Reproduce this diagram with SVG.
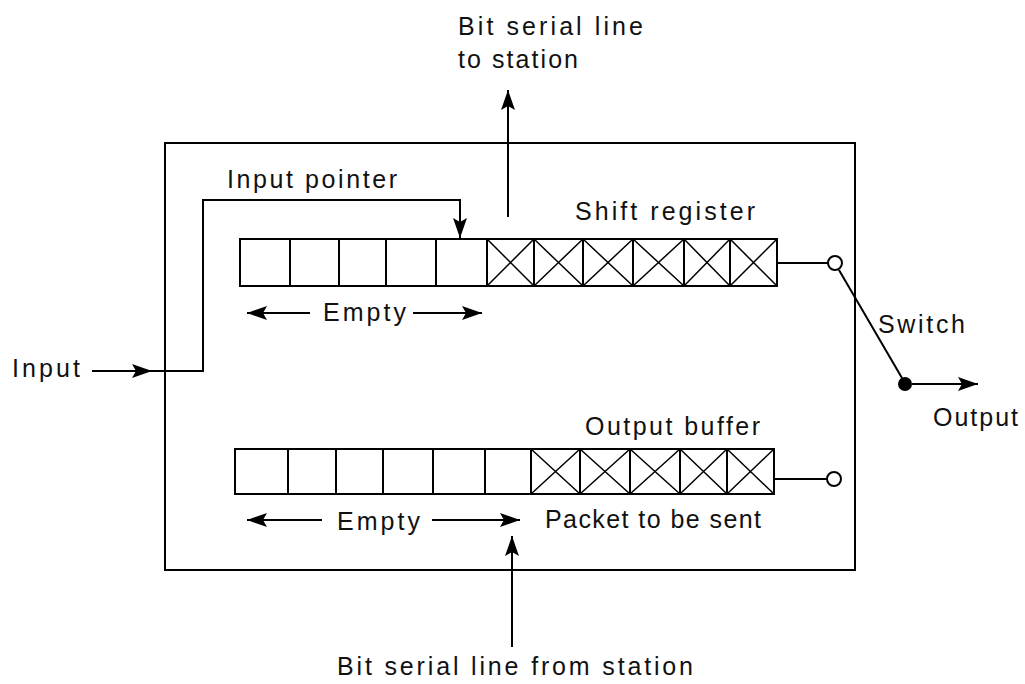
<svg xmlns="http://www.w3.org/2000/svg" width="1025" height="684" viewBox="0 0 1025 684">
<style>
.ln{stroke:#000;stroke-width:2;fill:none}
.cell{stroke:#000;stroke-width:2;fill:#fff}
.x{stroke:#000;stroke-width:1.5}
.t{font-family:"Liberation Sans",Arial,sans-serif;font-size:25px;fill:#111}
</style>
<defs>
<marker id="ah" viewBox="0 0 20 14" refX="20" refY="7" markerWidth="20" markerHeight="14" markerUnits="userSpaceOnUse" orient="auto">
<path d="M0,0 L20,7 L0,14 L4,7 Z" fill="#000"/>
</marker>
</defs>
<rect width="1025" height="684" fill="#fff"/>

<g id="outer-box">
<rect x="165" y="143" width="690" height="427" class="ln"/>
</g>

<g id="shift-register">
<rect x="240" y="239" width="537" height="47" class="cell"/>
<path class="ln" d="M290,239V286M339,239V286M386,239V286M436,239V286M487,239V286M534,239V286M583,239V286M633,239V286M684,239V286M730,239V286"/>
<path class="x" d="M487,239L534,286M534,239L487,286M534,239L583,286M583,239L534,286M583,239L633,286M633,239L583,286M633,239L684,286M684,239L633,286M684,239L730,286M730,239L684,286M730,239L777,286M777,239L730,286"/>
<text class="t" x="575" y="220" textLength="180" lengthAdjust="spacing">Shift register</text>
</g>

<g id="output-buffer">
<rect x="235" y="449" width="539" height="45" class="cell"/>
<path class="ln" d="M288,449V494M336,449V494M383,449V494M433,449V494M485,449V494M531,449V494M580,449V494M630,449V494M680,449V494M727,449V494"/>
<path class="x" d="M531,449L580,494M580,449L531,494M580,449L630,494M630,449L580,494M630,449L680,494M680,449L630,494M680,449L727,494M727,449L680,494M727,449L774,494M774,449L727,494"/>
<text class="t" x="585" y="435" textLength="175" lengthAdjust="spacing">Output buffer</text>
</g>

<g id="switch-top">
<circle cx="835" cy="263" r="7" fill="#fff" stroke="#000" stroke-width="2"/>
</g>
<g id="switch-bottom">
<circle cx="834" cy="479" r="7" fill="#fff" stroke="#000" stroke-width="2"/>
</g>
<g id="output-node">
<circle cx="905" cy="384" r="7" fill="#000"/>
</g>

<g id="connectors">
<line class="ln" x1="92" y1="371" x2="152" y2="371" marker-end="url(#ah)"/>
<polyline class="ln" points="150,371 203,371 203,200 460,200 460,218"/>
<line class="ln" x1="460" y1="216" x2="460" y2="238" marker-end="url(#ah)"/>
<line class="ln" x1="508" y1="217" x2="508" y2="90" marker-end="url(#ah)"/>
<line class="ln" x1="512" y1="647" x2="512" y2="536" marker-end="url(#ah)"/>
<line class="ln" x1="777" y1="263" x2="828" y2="263"/>
<line class="ln" x1="774" y1="479" x2="827" y2="479"/>
<line class="ln" x1="839" y1="270" x2="902" y2="378"/>
<line class="ln" x1="912" y1="384" x2="978" y2="384" marker-end="url(#ah)"/>
<line class="ln" x1="310" y1="313" x2="247" y2="313" marker-end="url(#ah)"/>
<line class="ln" x1="413" y1="313" x2="482" y2="313" marker-end="url(#ah)"/>
<line class="ln" x1="322" y1="520" x2="247" y2="520" marker-end="url(#ah)"/>
<line class="ln" x1="432" y1="520" x2="520" y2="520" marker-end="url(#ah)"/>
</g>

<g id="labels">
<text class="t" x="458" y="35" textLength="185" lengthAdjust="spacing">Bit serial line</text>
<text class="t" x="458" y="68" textLength="120" lengthAdjust="spacing">to station</text>
<text class="t" x="227" y="188" textLength="170" lengthAdjust="spacing">Input pointer</text>
<text class="t" x="323" y="321" textLength="83" lengthAdjust="spacing">Empty</text>
<text class="t" x="12" y="377" textLength="68" lengthAdjust="spacing">Input</text>
<text class="t" x="878" y="333" textLength="87" lengthAdjust="spacing">Switch</text>
<text class="t" x="933" y="426" textLength="85" lengthAdjust="spacing">Output</text>
<text class="t" x="337" y="530" textLength="83" lengthAdjust="spacing">Empty</text>
<text class="t" x="545" y="528" textLength="216" lengthAdjust="spacing">Packet to be sent</text>
<text class="t" x="337" y="675" textLength="356" lengthAdjust="spacing">Bit serial line from station</text>
</g>
</svg>
